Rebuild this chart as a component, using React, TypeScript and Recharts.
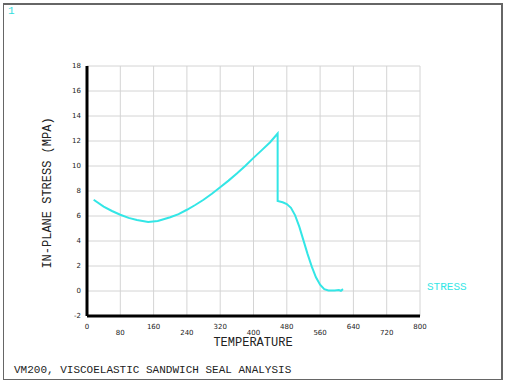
import { LineChart, Line, XAxis, YAxis, CartesianGrid } from 'recharts';

const temperature = [
  16, 40, 60, 80, 100, 120, 147, 170, 200, 220, 240, 260, 280, 300, 320, 340, 360, 380, 400, 420, 440, 458,
  458, 470, 480, 490, 500, 510, 520, 530, 540, 550, 560, 570, 580, 595, 605, 610, 615,
];
const stress = [
  7.3, 6.75, 6.4, 6.1, 5.85, 5.68, 5.52, 5.6, 5.9, 6.15, 6.5, 6.88, 7.3, 7.78, 8.3, 8.83, 9.4, 10.0, 10.65, 11.27, 11.9, 12.6,
  7.2, 7.1, 6.95, 6.65, 6.05, 5.15, 4.05, 2.95, 1.95, 1.1, 0.5, 0.15, 0.05, 0.05, 0.08, 0.02, 0.15,
];
const xTicks = [0, 80, 160, 240, 320, 400, 480, 560, 640, 720, 800];
const yTicks = [-2, 0, 2, 4, 6, 8, 10, 12, 14, 16, 18];

const data = temperature.map((t, i) => ({ t, s: stress[i] }));

const mono = '"Liberation Mono", monospace';

function XTick({ x, y, payload }: any) {
  const low = (payload.value / 80) % 2 === 1;
  return (
    <text x={x} y={y + (low ? 11 : 5)} textAnchor="middle" fontSize={7} fontFamily="DejaVu Sans" fill="#222">
      {payload.value}
    </text>
  );
}

function YTick({ x, y, payload }: any) {
  return (
    <text x={x + 2} y={y + 2} textAnchor="end" fontSize={7} fontFamily="DejaVu Sans" fill="#222">
      {payload.value}
    </text>
  );
}

export default function App() {
  return (
    <div style={{ position: 'absolute', left: 0, top: 0, width: 508, height: 383, background: '#fff' }}>
      <div style={{ position: 'absolute', left: 3, top: 3, width: 497, height: 374, borderStyle: 'solid', borderColor: '#666', borderWidth: '2px 2px 1px 1px' }} />
      <div style={{ position: 'absolute', left: 8, top: 5, color: '#33dddd', fontFamily: mono, fontSize: 11 }}>1</div>
      <LineChart width={508} height={383} data={data} margin={{ top: 66, right: 88, left: 57, bottom: 37 }}>
        <CartesianGrid stroke="#d4d4d4" horizontalValues={yTicks} verticalValues={xTicks} />
        <XAxis
          dataKey="t"
          type="number"
          domain={[0, 800]}
          ticks={xTicks}
          tick={<XTick />}
          tickLine={false}
          axisLine={{ stroke: '#000', strokeWidth: 3 }}
          height={30}
          interval={0}
        />
        <YAxis
          type="number"
          domain={[-2, 18]}
          ticks={yTicks}
          tick={<YTick />}
          tickLine={false}
          axisLine={{ stroke: '#000', strokeWidth: 3 }}
          width={30}
          interval={0}
        />
        <Line
          dataKey="s"
          type="linear"
          stroke="#33e6e6"
          strokeWidth={2}
          dot={false}
          isAnimationActive={false}
        />
      </LineChart>
      <div
        style={{
          position: 'absolute',
          left: 48,
          top: 193,
          transform: 'translate(-50%, -50%) rotate(-90deg)',
          whiteSpace: 'nowrap',
          fontFamily: mono,
          fontSize: 12,
          color: '#222',
        }}
      >
        IN-PLANE STRESS (MPA)
      </div>
      <div style={{ position: 'absolute', left: 253, top: 337, lineHeight: '13px', transform: 'translateX(-50%)', fontFamily: mono, fontSize: 12, color: '#222' }}>
        TEMPERATURE
      </div>
      <div style={{ position: 'absolute', left: 427, top: 281, fontFamily: mono, fontSize: 11, color: '#33e6e6' }}>STRESS</div>
      <div style={{ position: 'absolute', left: 14, top: 364, fontFamily: mono, fontSize: 11, color: '#222' }}>
        VM200, VISCOELASTIC SANDWICH SEAL ANALYSIS
      </div>
    </div>
  );
}
